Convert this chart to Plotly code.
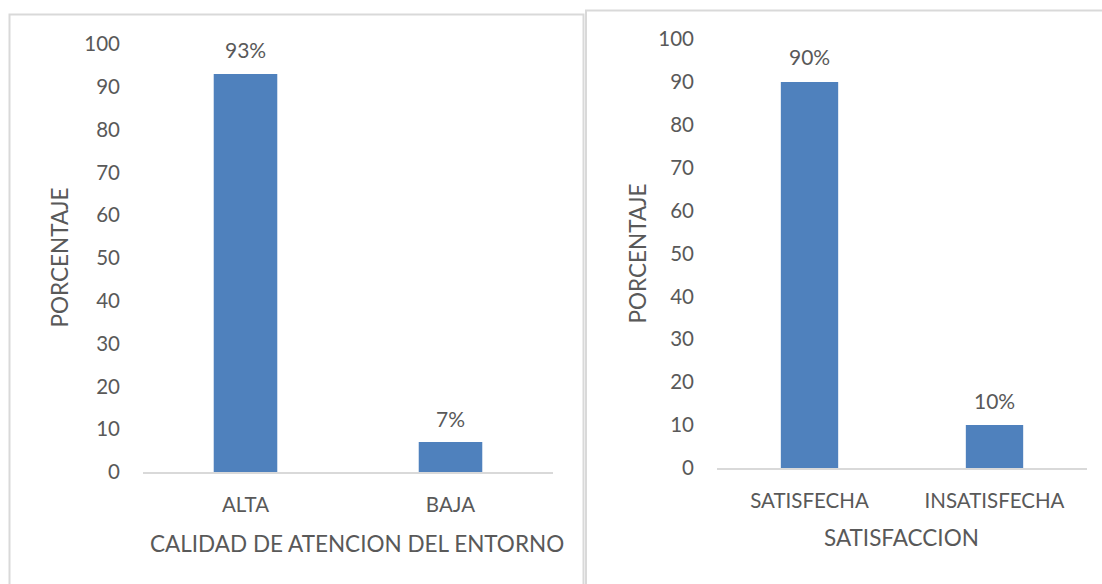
import plotly.graph_objects as go

# Data
cats_left = ["ALTA", "BAJA"]
vals_left = [93, 7]
cats_right = ["SATISFECHA", "INSATISFECHA"]
vals_right = [90, 10]
y_ticks = [0, 10, 20, 30, 40, 50, 60, 70, 80, 90, 100]

W, H = 1102, 584
FONT = "Lato"
TXT = "#595959"
BAR = "#4f81bd"

def px_x(p):
    return p / W

def px_y(p):
    return 1 - p / H

fig = go.Figure()
fig.add_trace(go.Bar(x=cats_left, y=vals_left, marker=dict(color=BAR, line=dict(width=0)),
                     xaxis="x", yaxis="y", showlegend=False, hoverinfo="skip"))
fig.add_trace(go.Bar(x=cats_right, y=vals_right, marker=dict(color=BAR, line=dict(width=0)),
                     xaxis="x2", yaxis="y2", showlegend=False, hoverinfo="skip"))

tickfont = dict(family=FONT, size=20.5, color=TXT)
xax = dict(showgrid=False, showline=True, linecolor="#d9d9d9", linewidth=1.5, ticks="",
           tickfont=tickfont, ticklabelstandoff=14, fixedrange=True, automargin=False)
yax = dict(showgrid=False, showline=False, zeroline=False, range=[0, 100], tickvals=y_ticks,
           tickfont=tickfont, ticks="", ticklabelstandoff=22, fixedrange=True, automargin=False)

fig.update_layout(
    template="none",
    width=W, height=H,
    margin=dict(l=0, r=0, t=0, b=0, pad=0, autoexpand=False),
    paper_bgcolor="white", plot_bgcolor="white",
    bargap=0.69,
    xaxis=dict(xax, domain=[px_x(143), px_x(553)], anchor="y"),
    yaxis=dict(yax, domain=[px_y(472), px_y(44)], anchor="x"),
    xaxis2=dict(xax, domain=[px_x(717), px_x(1087)], anchor="y2"),
    yaxis2=dict(yax, domain=[px_y(468), px_y(39)], anchor="x2"),
)

labelfont = dict(family=FONT, size=21, color=TXT)
annos = []
for c, v in zip(cats_left, vals_left):
    annos.append(dict(x=c, y=v, xref="x", yref="y", text=f"{v}%", showarrow=False,
                      yanchor="middle", yshift=24, font=labelfont))
for c, v in zip(cats_right, vals_right):
    annos.append(dict(x=c, y=v, xref="x2", yref="y2", text=f"{v}%", showarrow=False,
                      yanchor="middle", yshift=25, font=labelfont))

titlefont = dict(family=FONT, size=22.5, color=TXT)
annos += [
    dict(x=px_x(357), y=px_y(543), xref="paper", yref="paper", text="CALIDAD DE ATENCION DEL ENTORNO",
         showarrow=False, font=titlefont, xanchor="center", yanchor="middle"),
    dict(x=px_x(901), y=px_y(537), xref="paper", yref="paper", text="SATISFACCION",
         showarrow=False, font=titlefont, xanchor="center", yanchor="middle"),
    dict(x=px_x(59), y=px_y(257.5), xref="paper", yref="paper", text="PORCENTAJE", textangle=-90,
         showarrow=False, font=titlefont, xanchor="center", yanchor="middle"),
    dict(x=px_x(637), y=px_y(253.5), xref="paper", yref="paper", text="PORCENTAJE", textangle=-90,
         showarrow=False, font=titlefont, xanchor="center", yanchor="middle"),
]
fig.update_layout(annotations=annos)

border = dict(color="#d9d9d9", width=2)
fig.update_layout(shapes=[
    dict(type="rect", xref="paper", yref="paper", x0=px_x(9.5), x1=px_x(583.5),
         y0=-0.1, y1=px_y(14.5), line=border),
    dict(type="rect", xref="paper", yref="paper", x0=px_x(586), x1=1.1,
         y0=-0.1, y1=px_y(10.5), line=border),
])

fig.write_html("out.html")
